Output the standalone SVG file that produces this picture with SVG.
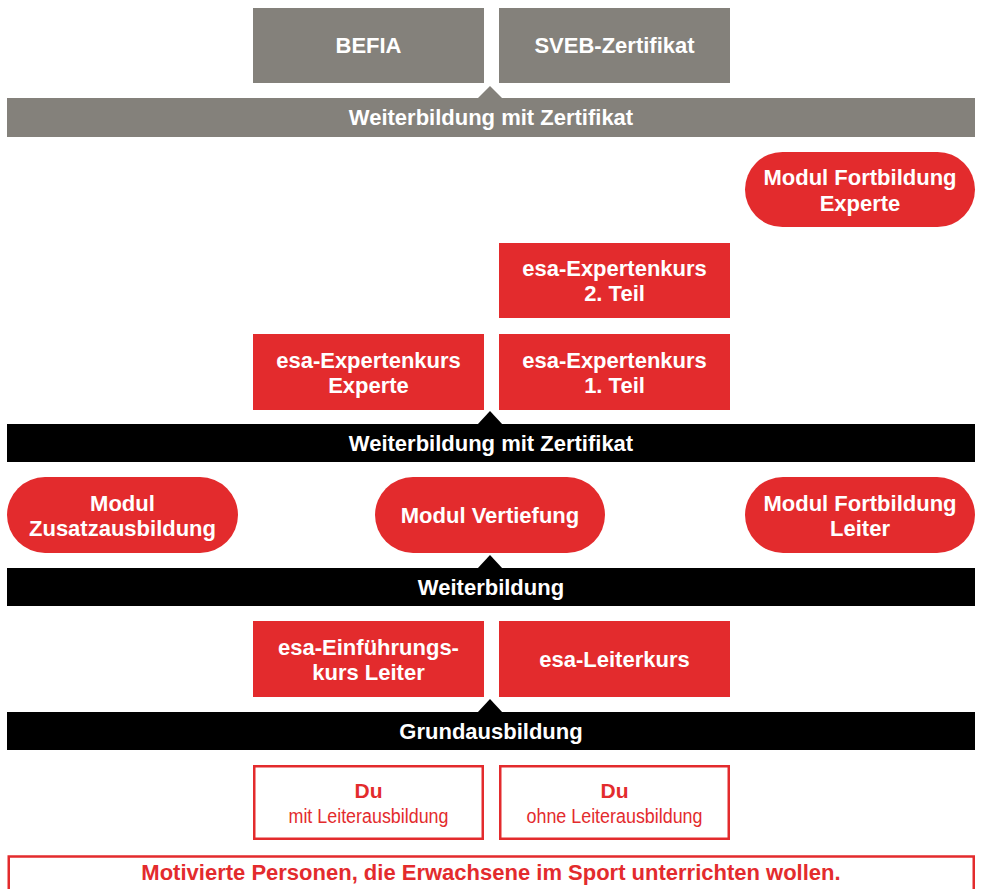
<svg xmlns="http://www.w3.org/2000/svg" width="981" height="889" viewBox="0 0 981 889">
<style>
.t{font-family:"Liberation Sans",Arial,sans-serif;font-weight:bold;font-size:22px;fill:#fff;text-anchor:middle}
.r{fill:#e32b2d}
.g{fill:#84817b}
.k{fill:#000}
.o{fill:#fff;stroke:#e32b2d;stroke-width:2.5}
.rt{font-family:"Liberation Sans",Arial,sans-serif;fill:#e32b2d;text-anchor:middle}
</style>
<rect width="981" height="889" fill="#fff"/>
<g id="connectors">
<polygon class="g" points="477,99 490,86 503,99"/>
<polygon class="k" points="477,425 490,411 503,425"/>
<polygon class="k" points="477,569 490,555 503,569"/>
<polygon class="k" points="477,713 490,699 503,713"/>
</g>
<g id="befia"><rect class="g" x="253" y="8" width="231" height="75"/><text class="t" x="368.5" y="53">BEFIA</text></g>
<g id="sveb"><rect class="g" x="499" y="8" width="231" height="75"/><text class="t" x="614.5" y="53">SVEB-Zertifikat</text></g>
<g id="band-grey"><rect class="g" x="7" y="98" width="968" height="39"/><text class="t" x="491" y="125">Weiterbildung mit Zertifikat</text></g>
<g id="fortbildung-experte"><rect class="r" x="745" y="152" width="230" height="75" rx="37.5"/><text class="t" x="860" y="185">Modul Fortbildung</text><text class="t" x="860" y="211">Experte</text></g>
<g id="expertenkurs-2"><rect class="r" x="499" y="243" width="231" height="75"/><text class="t" x="614.5" y="276">esa-Expertenkurs</text><text class="t" x="614.5" y="301">2. Teil</text></g>
<g id="expertenkurs-experte"><rect class="r" x="253" y="334" width="231" height="76"/><text class="t" x="368.5" y="368">esa-Expertenkurs</text><text class="t" x="368.5" y="393">Experte</text></g>
<g id="expertenkurs-1"><rect class="r" x="499" y="334" width="231" height="76"/><text class="t" x="614.5" y="368">esa-Expertenkurs</text><text class="t" x="614.5" y="393">1. Teil</text></g>
<g id="band-zertifikat"><rect class="k" x="7" y="424" width="968" height="38"/><text class="t" x="491" y="451">Weiterbildung mit Zertifikat</text></g>
<g id="zusatzausbildung"><rect class="r" x="7" y="477" width="231" height="76" rx="38"/><text class="t" x="122.5" y="511">Modul</text><text class="t" x="122.5" y="536">Zusatzausbildung</text></g>
<g id="vertiefung"><rect class="r" x="375" y="477" width="230" height="76" rx="38"/><text class="t" x="490" y="523">Modul Vertiefung</text></g>
<g id="fortbildung-leiter"><rect class="r" x="745" y="477" width="230" height="76" rx="38"/><text class="t" x="860" y="511">Modul Fortbildung</text><text class="t" x="860" y="536">Leiter</text></g>
<g id="band-weiterbildung"><rect class="k" x="7" y="568" width="968" height="38"/><text class="t" x="491" y="595">Weiterbildung</text></g>
<g id="einfuehrungskurs"><rect class="r" x="253" y="621" width="231" height="76"/><text class="t" x="368.5" y="655">esa-Einführungs-</text><text class="t" x="368.5" y="680">kurs Leiter</text></g>
<g id="leiterkurs"><rect class="r" x="499" y="621" width="231" height="76"/><text class="t" x="614.5" y="667">esa-Leiterkurs</text></g>
<g id="band-grund"><rect class="k" x="7" y="712" width="968" height="38"/><text class="t" x="491" y="739">Grundausbildung</text></g>
<g id="du-mit"><rect class="o" x="254.25" y="766.25" width="228.5" height="72.5"/><text class="rt" x="368.5" y="798" font-weight="bold" font-size="21">Du</text><text class="rt" x="368.5" y="823" font-size="20" textLength="160" lengthAdjust="spacingAndGlyphs">mit Leiterausbildung</text></g>
<g id="du-ohne"><rect class="o" x="500.25" y="766.25" width="228.5" height="72.5"/><text class="rt" x="614.5" y="798" font-weight="bold" font-size="21">Du</text><text class="rt" x="614.5" y="823" font-size="20" textLength="176" lengthAdjust="spacingAndGlyphs">ohne Leiterausbildung</text></g>
<g id="motivierte"><rect class="o" x="8.75" y="856.5" width="965" height="60" stroke-width="3"/><text class="rt" x="491" y="880" font-weight="bold" font-size="22">Motivierte Personen, die Erwachsene im Sport unterrichten wollen.</text></g>
</svg>
